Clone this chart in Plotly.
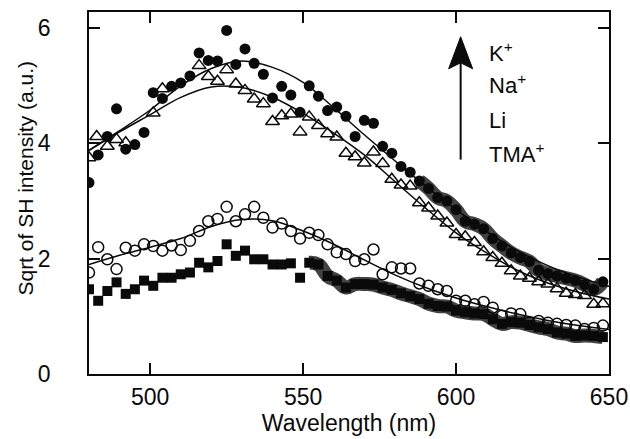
import plotly.graph_objects as go

# Measured spectra: sqrt of SH intensity vs. wavelength, one series per cation
wl = [480, 483, 486, 489, 492, 495, 498, 501, 504, 507, 510, 513, 516, 519, 522,
      525, 528, 531, 534, 537, 540, 543, 546, 549, 552, 555, 558, 561, 564, 567,
      570, 573, 576, 579, 582, 585, 588, 591, 594, 597, 600, 603, 606, 609, 612,
      615, 618, 621, 624, 627, 630, 633, 636, 639, 642, 645, 648]

k_vals = [3.32, 3.80, 4.12, 4.60, 3.90, 3.98, 4.19, 4.88, 4.78, 4.99, 5.05, 5.17, 5.57, 5.44, 5.43,
          5.96, 5.37, 5.64, 5.39, 5.20, 4.79, 4.99, 4.84, 4.54, 5.00, 4.82, 4.57, 4.63, 4.47, 4.12,
          4.40, 4.35, 3.95, 3.83, 3.60, 3.50, 3.35, 3.22, 3.06, 3.00, 2.85, 2.65, 2.60, 2.52, 2.35,
          2.22, 2.10, 2.02, 1.95, 1.80, 1.74, 1.70, 1.66, 1.62, 1.55, 1.47, 1.60]

na_wl = [480, 482.5, 486, 489, 492, 501, 504, 516, 519, 522, 525, 528, 531, 534, 537,
         540, 543, 546, 549, 552, 555, 558, 561, 564, 567, 570, 573, 576, 579, 582,
         585, 588, 591, 594, 597, 600, 603, 606, 609, 612, 615, 618, 621, 624, 627,
         630, 633, 636, 639, 642, 645, 648]
na_vals = [3.75, 4.12, 3.95, 4.07, 4.01, 4.53, 4.95, 5.35, 5.16, 5.08, 5.28, 5.03, 4.92, 4.77, 4.69,
           4.38, 4.48, 4.51, 4.20, 4.46, 4.31, 4.17, 4.11, 3.83, 3.77, 3.66, 3.85, 3.65, 3.38, 3.28,
           3.26, 2.97, 2.88, 2.74, 2.62, 2.42, 2.38, 2.28, 2.12, 2.02, 1.92, 1.79, 1.70, 1.66, 1.60,
           1.56, 1.48, 1.40, 1.38, 1.36, 1.21, 1.22]

li_vals = [1.76, 2.20, 1.99, 1.82, 2.19, 2.14, 2.25, 2.22, 2.14, 2.23, 2.15, 2.31, 2.48, 2.65, 2.69,
           2.90, 2.65, 2.77, 2.90, 2.71, 2.54, 2.61, 2.48, 2.35, 2.45, 2.41, 2.25, 2.11, 2.08, 1.96,
           1.99, 2.16, 1.73, 1.85, 1.83, 1.83, 1.57, 1.53, 1.47, 1.44, 1.27, 1.27, 1.21, 1.25, 1.15,
           1.01, 1.05, 1.04, 0.89, 0.92, 0.89, 0.87, 0.85, 0.84, 0.78, 0.80, 0.84]

tma_vals = [1.47, 1.27, 1.44, 1.59, 1.39, 1.47, 1.62, 1.53, 1.67, 1.67, 1.73, 1.76, 1.93, 1.85, 1.96,
            2.25, 2.05, 2.14, 1.99, 1.99, 1.90, 1.90, 1.92, 1.67, 1.93, 1.90, 1.70, 1.62, 1.50, 1.56,
            1.56, 1.55, 1.50, 1.46, 1.40, 1.35, 1.30, 1.22, 1.18, 1.17, 1.10, 1.07, 1.05, 1.04, 0.95,
            0.87, 0.90, 0.89, 0.85, 0.81, 0.78, 0.72, 0.70, 0.66, 0.67, 0.66, 0.64]

# Fitted curves
fit_wl = [480, 490, 500, 510, 520, 530, 540, 550, 560, 570, 580, 590, 600, 610, 620, 630, 640, 650]
k_fit = [3.88, 4.22, 4.58, 5.00, 5.30, 5.43, 5.32, 5.06, 4.62, 4.15, 3.70, 3.26, 2.85, 2.47, 2.14, 1.88, 1.68, 1.52]
na_fit = [3.88, 4.20, 4.50, 4.80, 4.98, 4.97, 4.80, 4.52, 4.18, 3.80, 3.34, 2.88, 2.45, 2.10, 1.80, 1.58, 1.42, 1.30]
li_fit = [1.90, 2.06, 2.20, 2.35, 2.56, 2.68, 2.66, 2.48, 2.25, 1.98, 1.72, 1.50, 1.32, 1.17, 1.04, 0.93, 0.84, 0.77]

# Wavelengths beyond which the print is smeared
tma_smear_from = 552
k_smear_from = 586

legend_labels = ["K<sup>+</sup>", "Na<sup>+</sup>", "Li", "TMA<sup>+</sup>"]
legend_y = [5.59, 5.03, 4.40, 3.84]

x_ticks = [500, 550, 600, 650]
y_ticks = [0, 2, 4, 6]

FONT = "Liberation Sans, Arial, Helvetica, sans-serif"
INK = "#0a0a0a"

fig = go.Figure()

# Smeared ink along the long-wavelength tails
for vals, start in ((tma_vals, tma_smear_from), (k_vals, k_smear_from)):
    sx = [w for w in wl if w >= start]
    sy = [v for w, v in zip(wl, vals) if w >= start]
    fig.add_trace(go.Scatter(x=sx, y=sy, mode="lines", opacity=0.8,
                             line=dict(color="#141414", width=14, shape="spline", smoothing=1.3),
                             hoverinfo="skip", showlegend=False))

for fy in (k_fit, na_fit, li_fit):
    fig.add_trace(go.Scatter(x=fit_wl, y=fy, mode="lines", line=dict(color=INK, width=1.5, shape="spline"),
                             hoverinfo="skip", showlegend=False))

fig.add_trace(go.Scatter(x=wl, y=tma_vals, mode="markers", name="TMA+",
                         marker=dict(symbol="square", size=10, color=INK)))
fig.add_trace(go.Scatter(x=wl, y=li_vals, mode="markers", name="Li",
                         marker=dict(symbol="circle-open", size=11, color=INK, line=dict(width=1.5))))
fig.add_trace(go.Scatter(x=na_wl, y=na_vals, mode="markers", name="Na+",
                         marker=dict(symbol="triangle-up-open", size=12, color=INK, line=dict(width=1.5))))
fig.add_trace(go.Scatter(x=wl, y=k_vals, mode="markers", name="K+",
                         marker=dict(symbol="circle", size=11, color=INK)))

# Upward arrow beside the cation list
arrow_x, arrow_top, arrow_bottom = 601.5, 5.85, 3.72
fig.add_shape(type="line", x0=arrow_x, x1=arrow_x, y0=arrow_bottom, y1=arrow_top - 0.35,
              xref="x", yref="y", line=dict(color=INK, width=2))
fig.add_shape(type="path", xref="x", yref="y", xsizemode="pixel", ysizemode="pixel",
              xanchor=arrow_x, yanchor=arrow_top,
              path="M0,0 L-12,-32 L0,-26 L12,-32 Z", fillcolor=INK, line=dict(color=INK, width=1))

for lab, ly in zip(legend_labels, legend_y):
    fig.add_annotation(x=610.0, y=ly, xref="x", yref="y", text=lab, showarrow=False,
                       xanchor="left", yanchor="middle", font=dict(family=FONT, size=22, color=INK))

# Vertical axis title placed as rotated text left of the tick labels
fig.add_annotation(x=-0.123, y=0.54, xref="paper", yref="paper", text="Sqrt of SH intensity (a.u.)",
                   textangle=-90, showarrow=False, xanchor="center", yanchor="middle",
                   font=dict(family=FONT, size=21, color=INK))

axis_common = dict(showline=True, linecolor=INK, linewidth=1.5, mirror="ticks", ticks="inside",
                   ticklen=11, tickwidth=1.5, tickcolor=INK, showgrid=False, zeroline=False,
                   automargin=False, tickfont=dict(family=FONT, size=23, color=INK))

fig.update_xaxes(range=[480, 650], tickvals=x_ticks, ticklabelstandoff=2,
                 title=dict(text="Wavelength (nm)", font=dict(family=FONT, size=23, color=INK), standoff=6),
                 **axis_common)
fig.update_yaxes(range=[0, 6.28], tickvals=y_ticks, ticklabelstandoff=32, **axis_common)

fig.update_layout(width=630, height=439, margin=dict(l=89, r=21, t=12, b=65),
                  paper_bgcolor="white", plot_bgcolor="white", showlegend=False)

fig.write_html("out.html")
